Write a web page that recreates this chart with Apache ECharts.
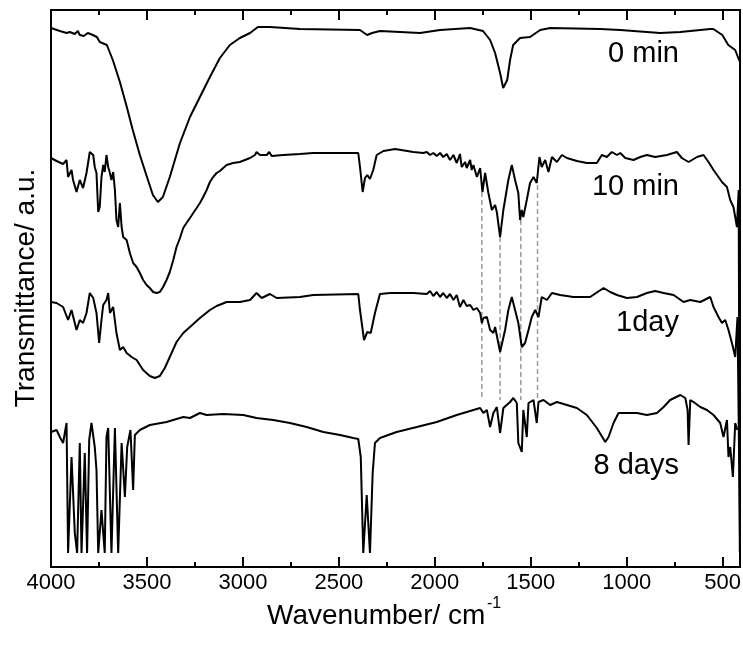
<!DOCTYPE html>
<html><head><meta charset="utf-8">
<script src="https://cdn.jsdelivr.net/npm/echarts@6/dist/echarts.min.js"></script>
<style>html,body{margin:0;padding:0;background:#fff}#c{width:743px;height:646px}</style>
</head><body><div id="c"></div>
<script>
// ---- data (wavenumber cm-1, transmittance a.u.) ----
const wn0 = [4000,3954,3918,3902,3876,3860,3850,3829,3808,3782,3761,3746,3709,3678,3641,3605,3574,3537,3500,3469,3443,3417,3381,3328,3276,3224,3172,3120,3068,3016,2963,2922,2859,2703,2390,2353,2327,2286,2077,1973,1816,1749,1712,1686,1660,1644,1623,1608,1592,1556,1504,1451,1399,1139,1034,826,721,565,549,502,471,435,419,409];
const t0 = [539,536,534,535,533,536,532,531,534,532,530,525,522,507,485,460,437,412,390,372,365,370,390,424,450,470,490,509,522,529,534,540,540,538,537,532,534,536,534,537,539,536,527,514,494,479,487,507,522,529,530,537,539,538,537,534,535,538,538,532,522,517,509,505];

const wn10 = [4000,3971,3937,3919,3911,3893,3885,3867,3850,3833,3815,3798,3780,3772,3763,3754,3746,3737,3728,3720,3711,3702,3693,3685,3676,3667,3659,3650,3641,3632,3624,3606,3589,3572,3554,3537,3520,3502,3485,3468,3450,3433,3416,3398,3381,3363,3346,3328,3311,3294,3276,3259,3241,3224,3207,3189,3172,3155,3137,3120,3103,3085,3051,3016,2963,2937,2929,2911,2876,2863,2850,2790,2703,2635,2459,2399,2390,2376,2364,2352,2338,2321,2303,2268,2207,2112,2060,2042,2025,2008,1990,1973,1956,1938,1921,1903,1886,1869,1860,1842,1834,1816,1808,1799,1781,1764,1752,1738,1721,1703,1686,1677,1660,1643,1617,1599,1582,1565,1556,1547,1539,1521,1504,1486,1469,1455,1443,1425,1408,1390,1364,1338,1312,1260,1208,1174,1156,1130,1104,1078,1051,1034,1008,965,930,895,852,791,739,713,678,634,600,574,548,522,504,478,461,444,426,417,411];
const t10 = [409,406,403,407,390,397,387,375,387,379,394,415,412,400,394,355,360,390,402,395,412,400,394,387,395,377,347,340,364,340,330,327,314,304,300,294,287,282,279,275,274,275,280,287,295,307,320,329,339,344,349,354,359,364,370,377,385,390,394,396,399,402,404,405,409,412,415,412,412,415,411,412,413,414,414,414,400,375,389,392,388,397,412,416,418,415,414,415,412,414,411,414,410,413,407,412,404,413,400,405,399,407,397,402,390,399,375,394,374,357,362,355,330,357,387,402,387,374,347,357,350,367,384,390,384,410,400,407,395,410,405,412,409,406,404,404,404,412,410,415,412,414,409,407,410,412,410,412,415,409,405,410,412,405,397,390,385,380,367,360,340,377,15];

const wn1d = [4000,3971,3937,3911,3893,3867,3850,3833,3815,3798,3780,3763,3749,3737,3728,3711,3702,3693,3676,3659,3641,3624,3606,3580,3554,3520,3485,3459,3433,3407,3381,3346,3311,3276,3224,3172,3137,3085,3016,2963,2929,2902,2859,2824,2703,2633,2399,2390,2369,2352,2334,2312,2286,2233,2112,2042,2025,2008,1990,1973,1956,1938,1921,1903,1886,1869,1851,1834,1816,1799,1781,1764,1755,1747,1729,1712,1695,1686,1660,1634,1617,1599,1582,1565,1547,1530,1512,1495,1477,1460,1443,1416,1390,1347,1278,1191,1121,1086,1051,999,947,895,852,808,756,704,669,617,565,548,522,504,487,470,452,435,423,409];
const t1d = [265,264,260,247,257,237,247,244,254,274,269,254,224,247,262,267,274,254,260,234,217,220,214,210,207,197,191,189,191,199,210,225,234,240,249,257,261,265,265,267,274,269,273,269,270,272,273,257,227,235,234,254,273,274,274,273,276,271,275,270,274,269,273,267,272,260,267,261,262,257,259,254,244,249,250,237,234,240,215,237,257,270,257,244,220,224,237,250,257,250,270,267,274,272,270,270,279,275,272,269,270,274,276,274,272,265,267,265,270,260,250,244,247,237,224,210,250,12];

const wn8 = [4000,3971,3954,3937,3919,3911,3893,3876,3864,3850,3841,3824,3812,3801,3789,3772,3763,3754,3737,3720,3711,3702,3685,3667,3650,3632,3615,3603,3586,3572,3563,3537,3485,3398,3311,3276,3224,3189,3103,2998,2929,2842,2755,2668,2581,2494,2425,2399,2386,2373,2355,2338,2324,2312,2286,2199,2094,1990,1886,1816,1764,1747,1729,1712,1695,1677,1660,1643,1608,1591,1573,1565,1547,1539,1521,1512,1486,1469,1460,1434,1399,1364,1312,1260,1208,1156,1112,1095,1069,1043,999,947,895,843,808,774,721,695,683,678,669,652,617,582,548,513,496,478,470,461,447,435,424];
const t8 = [135,137,130,124,144,14,110,34,14,124,14,114,14,127,144,120,97,14,57,14,130,139,14,139,14,124,70,120,137,77,132,137,142,145,150,149,154,152,153,152,149,147,144,140,135,132,129,128,110,14,72,14,94,124,129,135,140,145,152,156,159,154,157,140,154,160,134,159,165,169,164,124,115,157,130,164,167,144,165,167,162,165,162,159,152,139,125,130,144,154,154,154,152,154,160,167,172,169,157,122,167,165,160,157,152,144,130,147,110,120,90,144,137];

// dashed guide lines
const dashWn = [1755,1660,1552,1465];
const dashTop = [375,330,347,382];
const dashBottom = [167,167,167,167];

const seriesNames = ['0 min','10 min','1day','8 days'];
const majorTicks = [500,1000,1500,2000,2500,3000,3500,4000];
const minorTicks = [750,1250,1750,2250,2750,3250,3750];

// ---- chart ----
const FONT = '"Liberation Sans", Arial, Helvetica, sans-serif';
const chart = echarts.init(document.getElementById('c'), null, {renderer:'canvas'});
const pairs = (xs, ys) => xs.map((x, i) => [x, ys[i]]);
const tickStyle = {color:'#000', width:2};
function xAx(pos, vals, len, labels){
  return {
    type:'value', min:410, max:4000, inverse:true, position:pos,
    splitLine:{show:false}, axisLine:{show:false},
    axisTick:{show:true, inside:true, length:len, customValues:vals, lineStyle:tickStyle},
    axisLabel: labels ? {show:true, customValues:vals, margin:5, color:'#000', fontSize:22, fontFamily:FONT, formatter: v => String(v)} : {show:false}
  };
}
const spectra = [[wn0,t0],[wn10,t10],[wn1d,t1d],[wn8,t8]];
const series = [];
dashWn.forEach((w, i) => {
  series.push({type:'line', name:'guide'+i, data:[[w, dashTop[i]],[w, dashBottom[i]]], showSymbol:false, silent:true, z:1,
    lineStyle:{color:'#9a9a9a', width:1.5, type:[5,3]}});
});
spectra.forEach((s, i) => {
  series.push({type:'line', name:seriesNames[i], data:pairs(s[0], s[1]), showSymbol:false, z:3,
    lineStyle:{color:'#000', width:2}});
});
const labelPos = [[679,54],[679,187],[679,323],[679,466]];
const graphic = seriesNames.map((n, i) => ({type:'text', x:labelPos[i][0], y:labelPos[i][1],
  style:{text:n, fill:'#000', font:'29px ' + FONT, textAlign:'right', textVerticalAlign:'middle'}}));
graphic.push({type:'text', x:267, y:616, style:{text:'Wavenumber/ cm', fill:'#000', font:'28px ' + FONT, textAlign:'left', textVerticalAlign:'middle'}});
graphic.push({type:'text', x:487, y:604, style:{text:'-1', fill:'#000', font:'16px ' + FONT, textAlign:'left', textVerticalAlign:'middle'}});
graphic.push({type:'text', x:26, y:288, rotation:Math.PI/2, style:{text:'Transmittance/ a.u.', fill:'#000', font:'28px ' + FONT, textAlign:'center', textVerticalAlign:'middle'}});

chart.setOption({
  animation:false,
  backgroundColor:'#fff',
  grid:{left:51, top:10, width:689, height:557, show:true, borderColor:'#000', borderWidth:2, backgroundColor:'transparent', containLabel:false, outerBoundsMode:'none'},
  xAxis:[
    xAx('bottom', majorTicks, 10, true),
    xAx('bottom', minorTicks, 5, false),
    xAx('top', majorTicks, 10, false),
    xAx('top', minorTicks, 5, false)
  ],
  yAxis:{type:'value', min:0, max:557, show:false},
  graphic: graphic,
  series: series
});
</script></body></html>
